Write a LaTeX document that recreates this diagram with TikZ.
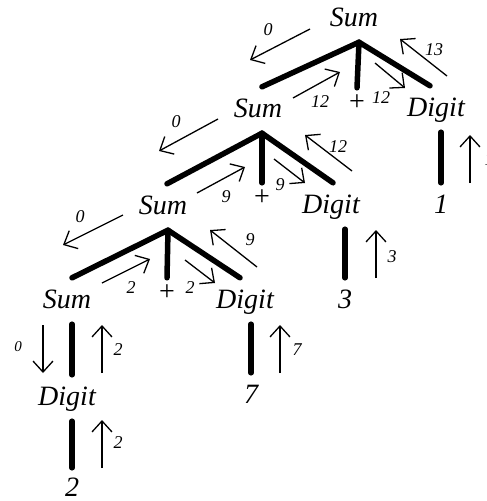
\documentclass[tikz,border=0pt]{standalone}
\usepackage{fontspec}
\setmainfont{Liberation Serif}
\usetikzlibrary{arrows.meta}

\newcommand{\bigtxt}{\fontsize{28}{32}\selectfont\itshape}
\newcommand{\smalltxt}{\fontsize{18}{20}\selectfont\itshape}

\begin{document}
\begin{tikzpicture}[x=1pt, y=-1pt, >={Straight Barb[length=11pt,width=20pt]},
    word/.style={font=\bigtxt, anchor=base, inner xsep=0pt, inner ysep=10pt, text height=20pt, text depth=6pt},
    op/.style={font=\bigtxt\upshape, inner sep=0pt, minimum height=30pt},
    edge/.style={line width=5.5pt, line cap=round},
    flow/.style={->, line width=1.3pt},
    val/.style={font=\smalltxt}]
    \useasboundingbox (0,0) rectangle (487,501);

    \node[word] (s1) at (354,26) {Sum};
    \node[word] (s2) at (258,117) {Sum};
    \node[op] (p1) at (357,103) {+};
    \node[word] (d1) at (436,116) {Digit};
    \node[word] (n1) at (441,213) {1};

    \node[word] (s3) at (163,214) {Sum};
    \node[op] (p2) at (262,198) {+};
    \node[word] (d2) at (331,213) {Digit};
    \node[word] (n3) at (345,308) {3};

    \node[word] (s4) at (67,308) {Sum};
    \node[op] (p3) at (167,293) {+};
    \node[word] (d3) at (245,308) {Digit};
    \node[word] (n7) at (251,403) {7};

    \node[word] (d4) at (67,405) {Digit};
    \node[word] (n2) at (72,496) {2};

    \draw[edge] ([xshift=5pt]s1.south) -- ([xshift=4pt]s2.north);
    \draw[edge] ([xshift=5pt]s1.south) -- (p1.north);
    \draw[edge] ([xshift=5pt]s1.south) -- ([xshift=-6pt]d1.north);
    \draw[edge] (n1.north |- d1.south) -- (n1.north);

    \draw[edge] ([xshift=4pt]s2.south) -- ([xshift=4pt]s3.north);
    \draw[edge] ([xshift=4pt]s2.south) -- (p2.north);
    \draw[edge] ([xshift=4pt]s2.south) -- ([xshift=2pt]d2.north);
    \draw[edge] (n3.north |- d2.south) -- (n3.north);

    \draw[edge] ([xshift=5pt]s3.south) -- ([xshift=5pt]s4.north);
    \draw[edge] ([xshift=5pt]s3.south) -- (p3.north);
    \draw[edge] ([xshift=5pt]s3.south) -- ([xshift=-5pt]d3.north);
    \draw[edge] (n7.north |- d3.south) -- (n7.north);

    \draw[edge] ([xshift=5pt]s4.south) -- ([xshift=5pt]d4.north);
    \draw[edge] (n2.north |- d4.south) -- ([yshift=-2pt]n2.north);

    \draw[flow] (310,29) -- (250,60);
    \node[val] (v1) at (268,30) {0};
    \draw[flow] (293,98) -- (340,72);
    \node[val] (v2) at (320,102) {12};
    \draw[flow] (375,63) -- (405,88);
    \node[val] (v3) at (381,98) {12};
    \draw[flow] (447,76) -- (400,39);
    \node[val] (v4) at (434,50) {13};
    \draw[flow] (470,183) -- (470,135);
    \node[val] (v5) at (489,160) {1};

    \draw[flow] (218,119) -- (159,151);
    \node[val] (v6) at (176,122) {0};
    \draw[flow] (197,193) -- (245,167);
    \node[val] (v7) at (226,197) {9};
    \draw[flow] (274,159) -- (305,183);
    \node[val] (v8) at (280,185) {9};
    \draw[flow] (352,171) -- (305,135);
    \node[val] (v9) at (338,147) {12};
    \draw[flow] (376,278) -- (376,230);
    \node[val] (v10) at (392,257) {3};

    \draw[flow] (123,215) -- (63,245);
    \node[val] (v11) at (80,217) {0};
    \draw[flow] (102,283) -- (150,259);
    \node[val] (v12) at (131,288) {2};
    \draw[flow] (185,260) -- (215,283);
    \node[val] (v13) at (190,288) {2};
    \draw[flow] (257,267) -- (210,230);
    \node[val] (v14) at (250,240) {9};
    \draw[flow] (280,373) -- (280,325);
    \node[val] (v15) at (297,350) {7};

    \draw[flow] (43,325) -- (43,373);
    \node[val, font=\fontsize{15}{17}\selectfont\itshape] (v16) at (18,347) {0};
    \draw[flow] (102,373) -- (102,325);
    \node[val] (v17) at (118,350) {2};
    \draw[flow] (102,468) -- (102,420);
    \node[val] (v18) at (118,443) {2};
\end{tikzpicture}
\end{document}
